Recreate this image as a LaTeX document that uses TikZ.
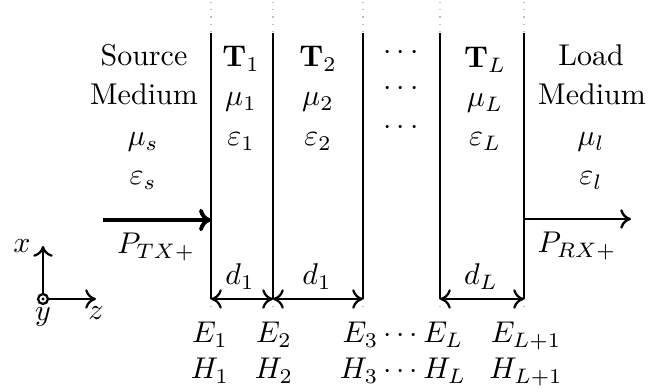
\documentclass[tikz,border=0pt]{standalone}
\usetikzlibrary{arrows.meta}
\begin{document}
\begin{tikzpicture}[x=0.3333pt,y=-0.3333pt,
  wall/.style={line width=0.9pt},
  ext/.style={gray!50,dotted,thin},
  tipa/.style={-{Computer Modern Rightarrow[length=4pt,width=7.5pt]}},
  tipb/.style={-{Computer Modern Rightarrow[length=3.6pt,width=6.5pt]}},
  dimarrow/.style={line width=0.75pt,{Computer Modern Rightarrow[length=3.6pt,width=6.5pt]}-{Computer Modern Rightarrow[length=3.6pt,width=6.5pt]}},
  lbl/.style={inner sep=0pt,anchor=base},
  axis/.style={line width=0.75pt,tipb},
]
\useasboundingbox (0,0) rectangle (649,392);
% interfaces
\foreach \n/\x in {1/211,2/273,3/363,4/440,5/524}{
  \coordinate (t\n) at (\x,33);
  \coordinate (b\n) at (\x,299);
  \coordinate (tt\n) at (\x,2);
  \coordinate (bb\n) at (\x,311);
  \draw[wall] (t\n) -- (b\n);
  \draw[ext] (tt\n) -- (t\n);
  \draw[ext] (b\n) -- (bb\n);
}
% source column
\node[lbl] (src) at (144,66) {Source};
\node[lbl] (srcm) at (144,105) {Medium};
\node[lbl] (mus) at (143,146) {$\mu_s$};
\node[lbl] (eps) at (143,185) {$\varepsilon_s$};
% layer 1
\node[lbl] (T1) at (241,67) {$\mathbf{T}_1$};
\node[lbl] (mu1) at (241,106) {$\mu_1$};
\node[lbl] (ep1) at (241,146) {$\varepsilon_1$};
% layer 2
\node[lbl] (T2) at (318,67) {$\mathbf{T}_2$};
\node[lbl] (mu2) at (318,106) {$\mu_2$};
\node[lbl] (ep2) at (318,146) {$\varepsilon_2$};
% dots
\node[lbl] (dA) at (401,59.5) {$\cdots$};
\node[lbl] (dB) at (401,95.5) {$\cdots$};
\node[lbl] (dC) at (401,134.5) {$\cdots$};
% layer L
\node[lbl] (TL) at (485,68) {$\mathbf{T}_L$};
\node[lbl] (muL) at (485,107) {$\mu_L$};
\node[lbl] (epL) at (485,146) {$\varepsilon_L$};
% load column
\node[lbl] (ld) at (591,66) {Load};
\node[lbl] (ldm) at (592,105) {Medium};
\node[lbl] (mul) at (591,146) {$\mu_l$};
\node[lbl] (epl) at (591,185) {$\varepsilon_l$};
% power arrows
\coordinate (pin) at (103,220);
\coordinate (pinend) at (211,220);
\coordinate (pout) at (524,219);
\coordinate (poutend) at (631,219);
\draw[line width=1.3pt,tipa] (pin) -- (pinend);
\draw[line width=0.8pt,tipb] (pout) -- (poutend);
\node[lbl] (ptx) at (156,254) {$P_{TX+}$};
\node[lbl] (prx) at (577,253) {$P_{RX+}$};
% dimensions
\draw[dimarrow] (b1) -- (b2);
\draw[dimarrow] (b2) -- (b3);
\draw[dimarrow] (b4) -- (b5);
\node[lbl] (d1a) at (240,285) {$d_1$};
\node[lbl] (d1b) at (317,285) {$d_1$};
\node[lbl] (dL) at (481,285) {$d_L$};
% fields
\node[lbl] (E1) at (210,343) {$E_1$};
\node[lbl] (E2) at (274,343) {$E_2$};
\node[lbl] (E3) at (403,343) {$E_3\cdots E_L$};
\node[lbl] (EL1) at (526,343) {$E_{L+1}$};
\node[lbl] (H1) at (210,379) {$H_1$};
\node[lbl] (H2) at (274,379) {$H_2$};
\node[lbl] (H3) at (403,379) {$H_3\cdots H_L$};
\node[lbl] (HL1) at (526,379) {$H_{L+1}$};
% axes
\node[draw,line width=0.75pt,circle,minimum size=3.3pt,inner sep=0pt] (o) at (43,299) {};
\fill (o.center) circle (0.55pt);
\coordinate (xt) at (43,246);
\coordinate (zt) at (96,299);
\draw[axis] (o.north) -- (xt);
\draw[axis] (o.east) -- (zt);
\node[lbl] (xl) at (22,253) {$x$};
\node[lbl] (yl) at (43,321) {$y$};
\node[lbl] (zl) at (96,320) {$z$};
\end{tikzpicture}
\end{document}
